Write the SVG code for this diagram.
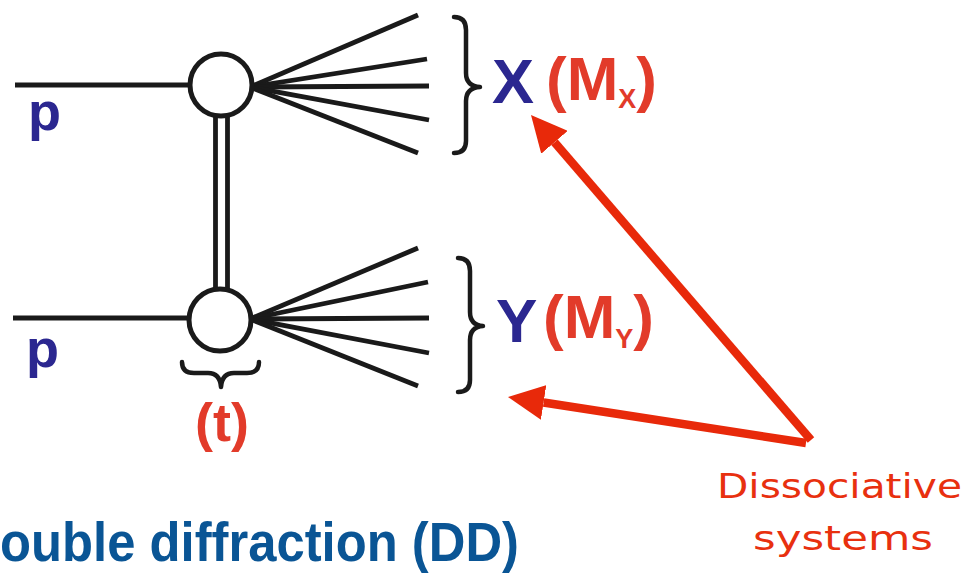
<svg xmlns="http://www.w3.org/2000/svg" width="967" height="574" viewBox="0 0 967 574">
<style>
.ln{stroke:#1a1a1a;stroke-width:4.8;fill:none;stroke-linecap:butt}
.br{stroke:#1a1a1a;stroke-width:4.5;fill:none;stroke-linecap:round;stroke-linejoin:round}
.vx{fill:#fff;stroke:#1a1a1a;stroke-width:5}
.blue{fill:#2b2790;font-family:"Liberation Sans",Arial,sans-serif;font-weight:bold}
.red{fill:#e23b2a;font-family:"Liberation Sans",Arial,sans-serif;font-weight:bold}
.arr{stroke:#e8290a;stroke-width:8.5;fill:none}
.hand{fill:#e8300f;font-family:"DejaVu Sans Condensed","DejaVu Sans",sans-serif;font-size:34px}
</style>
<defs>
<marker id="ah" markerUnits="userSpaceOnUse" markerWidth="36" markerHeight="35" refX="0" refY="17.5" orient="auto" viewBox="0 0 36 35">
<path d="M0,0 L36,17.5 L0,35 z" fill="#e8290a"/>
</marker>
</defs>
<rect width="967" height="574" fill="#fff"/>
<g id="connectors">
<line class="ln" x1="15" y1="85" x2="195" y2="85"/>
<line class="ln" x1="13" y1="318" x2="195" y2="318"/>
<line class="ln" x1="215.5" y1="112" x2="215.5" y2="292"/>
<line class="ln" x1="227.5" y1="112" x2="227.5" y2="292"/>
<g id="fanX">
<line class="ln" x1="250" y1="87" x2="418" y2="15"/>
<line class="ln" x1="250" y1="87" x2="427" y2="59"/>
<line class="ln" x1="250" y1="87" x2="429" y2="86"/>
<line class="ln" x1="250" y1="87" x2="429" y2="120"/>
<line class="ln" x1="250" y1="87" x2="418" y2="153"/>
</g>
<g id="fanY">
<line class="ln" x1="250" y1="319" x2="418" y2="248"/>
<line class="ln" x1="250" y1="319" x2="428" y2="282"/>
<line class="ln" x1="250" y1="319" x2="429" y2="318"/>
<line class="ln" x1="250" y1="319" x2="429" y2="353"/>
<line class="ln" x1="250" y1="319" x2="418" y2="386"/>
</g>
<line class="arr" x1="811" y1="440" x2="554.5" y2="142.3" marker-end="url(#ah)"/>
<line class="arr" x1="806" y1="443" x2="543.6" y2="402.5" marker-end="url(#ah)"/>
</g>
<g id="vertexTop"><circle class="vx" cx="221" cy="85" r="31"/></g>
<g id="vertexBottom"><circle class="vx" cx="220" cy="320" r="31"/></g>
<g id="protonTop"><text class="blue" x="28" y="130" font-size="54">p</text></g>
<g id="protonBottom"><text class="blue" x="26" y="367" font-size="54">p</text></g>
<g id="braceX"><path class="br" d="M454 17 Q466 17 466 30 L466 73 Q466 86 480 87 Q466 88 466 101 L466 141 Q466 153 454 153"/></g>
<g id="braceY"><path class="br" d="M458 258 Q470 258 470 271 L470 312 Q470 325 483 326 Q470 327 470 340 L470 380 Q470 392 458 392"/></g>
<g id="braceT"><path class="br" d="M182 362 Q182 373 194 373 L208 373 Q220 373 221 387 Q222 373 234 373 L247 373 Q259 373 259 362"/></g>
<g id="labelX">
<text class="blue" x="492" y="103" font-size="63">X</text>
<text class="red" x="546" y="100" font-size="62">(M<tspan font-size="27" dy="8">X</tspan><tspan dy="-8">)</tspan></text>
</g>
<g id="labelY">
<text class="blue" x="496" y="342" font-size="62">Y</text>
<text class="red" x="543" y="338" font-size="62">(M<tspan font-size="27" dy="10">Y</tspan><tspan dy="-10">)</tspan></text>
</g>
<g id="labelT"><text class="red" x="222" y="441" font-size="54" text-anchor="middle">(t)</text></g>
<g id="title"><text x="0" y="561" font-family="'Liberation Sans',Arial,sans-serif" font-weight="bold" font-size="56" fill="#0a5595" textLength="519" lengthAdjust="spacingAndGlyphs">ouble diffraction (DD)</text></g>
<g id="note">
<text class="hand" x="717" y="498" textLength="245" lengthAdjust="spacingAndGlyphs">Dissociative</text>
<text class="hand" x="753" y="550" textLength="180" lengthAdjust="spacingAndGlyphs">systems</text>
</g>
</svg>
